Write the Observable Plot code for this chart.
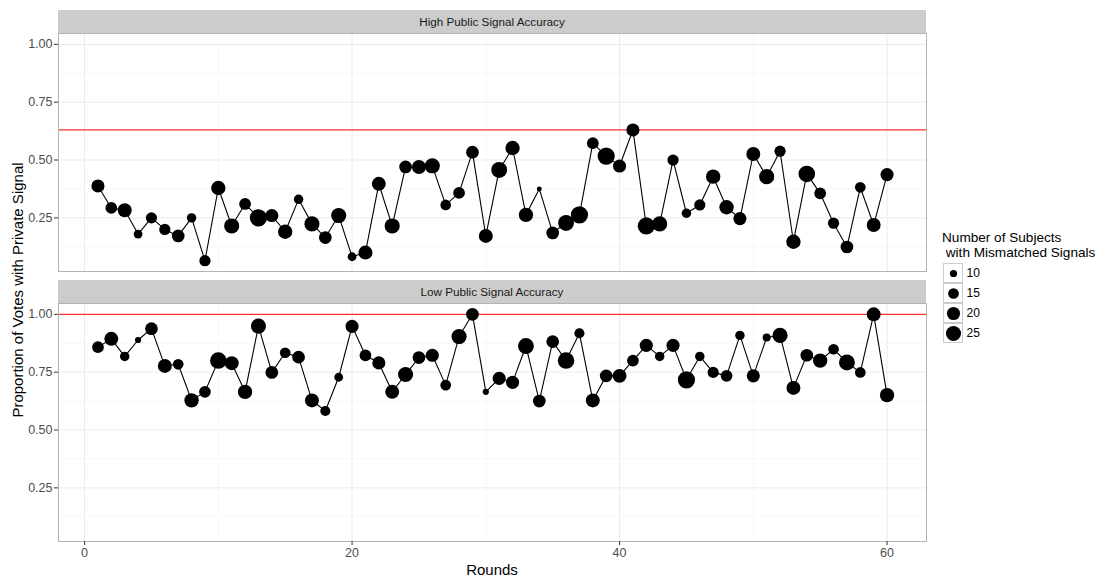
<!DOCTYPE html>
<html>
<head>
<meta charset="utf-8">
<script src="https://cdn.jsdelivr.net/npm/d3@7"></script>
<script src="https://cdn.jsdelivr.net/npm/@observablehq/plot@0.6"></script>
<style>
  body { margin: 0; background: #fff; font-family: "Liberation Sans", Arial, sans-serif; }
  #wrap { position: relative; width: 1111px; height: 577px; overflow: hidden; }
  .strip { position: absolute; left: 58px; width: 868px; height: 23px; background: #cccccc;
           font-size: 11.7px; color: #1a1a1a; text-align: center; line-height: 23px; }
  .ytitle { position: absolute; left: 17px; top: 290px; transform: translate(-50%, -50%) rotate(-90deg);
            font-size: 15px; color: #000; white-space: nowrap; }
  .xtitle { position: absolute; left: 492px; top: 569px; transform: translate(-50%, -50%);
            font-size: 15px; color: #000; white-space: nowrap; }
  .ltitle { position: absolute; left: 942px; top: 230px; font-size: 13.6px; line-height: 15px; color: #000; white-space: pre; }
</style>
</head>
<body>
<div id="wrap"></div>
<script>
// ---------- data ----------
const panels = ["High Public Signal Accuracy", "Low Public Signal Accuracy"];
const refLines = [0.63, 1.0];
const rounds = d3.range(1, 61);

const highProp = [0.388,0.293,0.283,0.180,0.250,0.200,0.172,0.250,0.065,0.379,
                  0.215,0.310,0.250,0.260,0.190,0.330,0.224,0.165,0.260,0.082,
                  0.100,0.397,0.215,0.470,0.470,0.475,0.306,0.358,0.534,0.172,
                  0.457,0.552,0.263,0.375,0.185,0.228,0.263,0.573,0.517,0.474,
                  0.630,0.215,0.224,0.500,0.270,0.306,0.428,0.296,0.247,0.526,
                  0.428,0.538,0.147,0.440,0.356,0.227,0.124,0.382,0.219,0.437];
const highN = [20,17,22,12,16,16,19,13,16,23,
               25,17,31,20,23,13,25,19,25,12,
               22,22,25,19,22,25,15,17,19,22,
               27,23,23,8,19,27,31,17,31,20,
               20,31,25,16,13,16,23,23,20,22,
               25,16,23,29,17,16,19,15,22,20];

const lowProp = [0.858,0.894,0.818,0.889,0.938,0.777,0.784,0.628,0.665,0.800,
                 0.789,0.665,0.949,0.749,0.834,0.815,0.628,0.582,0.728,0.948,
                 0.823,0.790,0.665,0.740,0.813,0.823,0.694,0.904,1.000,0.665,
                 0.723,0.706,0.863,0.625,0.882,0.800,0.918,0.628,0.734,0.734,
                 0.800,0.866,0.818,0.866,0.717,0.818,0.749,0.734,0.909,0.734,
                 0.900,0.909,0.682,0.823,0.800,0.849,0.792,0.749,1.000,0.651];
const lowN = [17,22,13,9,19,22,15,23,17,29,
              22,23,25,19,15,19,22,14,12,20,
              17,20,22,25,19,20,15,25,19,9,
              20,20,27,19,19,29,14,22,19,22,
              17,20,13,20,31,13,16,17,13,20,
              11,25,22,19,23,15,27,15,22,23];

const xMajor = [0, 20, 40, 60];
const xMinor = [10, 30, 50];
const yMajor = [0.25, 0.5, 0.75, 1.0];
const yMinor = [0.125, 0.375, 0.625, 0.875];
const legendSizes = [10, 15, 20, 25];

// ---------- scales (ggplot-like 5% expansion) ----------
const allY = highProp.concat(lowProp);
const yMin = d3.min(allY), yMax = d3.max(allY);
const yPad = (yMax - yMin) * 0.05;
const yDomain = [yMin - yPad, yMax + yPad];
const xPad = (d3.max(rounds) - d3.min(rounds)) * 0.05;
const xDomain = [d3.min(rounds) - xPad, d3.max(rounds) + xPad];
const nBase = 7;
const rScale = {type: "sqrt", domain: [0, 24], range: [0.88, 8.6]};

const font = "Liberation Sans, Arial, sans-serif";
const wrap = document.getElementById("wrap");

function place(el, left, top) {
  el.style.position = "absolute";
  el.style.left = left + "px";
  el.style.top = top + "px";
  wrap.appendChild(el);
}

function panel(props, ns, ref, showX) {
  const data = rounds.map((r, i) => ({round: r, prop: props[i], n: ns[i]}));
  const marks = [
    Plot.ruleX(xMinor, {stroke: "#f7f7f7"}),
    Plot.ruleY(yMinor, {stroke: "#f7f7f7"}),
    Plot.ruleX(xMajor, {stroke: "#ebebeb"}),
    Plot.ruleY(yMajor, {stroke: "#ebebeb"}),
    Plot.axisY(yMajor, {tickFormat: d3.format(".2f"), tickSize: 4, tickPadding: 2,
                        fontSize: 12.5, fill: "#4d4d4d", stroke: "#333", label: null}),
    Plot.ruleY([ref], {stroke: "#f8332a", strokeWidth: 1.2}),
    Plot.line(data, {x: "round", y: "prop", stroke: "black", strokeWidth: 1.1}),
    Plot.dot(data, {x: "round", y: "prop", r: d => d.n - nBase, fill: "black", stroke: "none"}),
    Plot.frame({stroke: "#b3b3b3"})
  ];
  if (showX) {
    marks.push(Plot.axisX(xMajor, {tickSize: 4, tickPadding: 3, fontSize: 12.5,
                                   fill: "#4d4d4d", stroke: "#333", label: null, tickFormat: "d"}));
  }
  return Plot.plot({
    width: 926, height: 238 + (showX ? 22 : 0),
    marginLeft: 58, marginRight: 0, marginTop: 0, marginBottom: showX ? 22 : 0,
    style: {fontFamily: font, background: "transparent", overflow: "visible"},
    x: {domain: xDomain, axis: null},
    y: {domain: yDomain, axis: null},
    r: rScale,
    marks
  });
}

// strips
panels.forEach((name, i) => {
  const s = document.createElement("div");
  s.className = "strip";
  s.style.top = (i === 0 ? 10 : 280) + "px";
  s.textContent = name;
  wrap.appendChild(s);
});

place(panel(highProp, highN, refLines[0], false), 0, 33);
place(panel(lowProp, lowN, refLines[1], true), 0, 303);

// axis titles
const yt = document.createElement("div");
yt.className = "ytitle";
yt.textContent = "Proportion of Votes with Private Signal";
wrap.appendChild(yt);
const xt = document.createElement("div");
xt.className = "xtitle";
xt.textContent = "Rounds";
wrap.appendChild(xt);

// legend
const lt = document.createElement("div");
lt.className = "ltitle";
lt.textContent = "Number of Subjects\n with Mismatched Signals";
wrap.appendChild(lt);

const legend = Plot.plot({
  width: 60, height: 82,
  marginLeft: 1, marginRight: 39, marginTop: 1, marginBottom: 1,
  style: {fontFamily: font, background: "transparent", overflow: "visible"},
  x: {type: "band", domain: ["k"], padding: 0, axis: null},
  y: {type: "band", domain: legendSizes, padding: 0, axis: null},
  r: rScale,
  marks: [
    Plot.cell(legendSizes, {x: () => "k", y: d => d, fill: "white", stroke: "#cccccc", inset: 0.5}),
    Plot.dot(legendSizes, {x: () => "k", y: d => d, r: d => d - nBase, fill: "black", stroke: "none"}),
    Plot.text(legendSizes, {x: () => "k", y: d => d, text: d => String(d), dx: 13, textAnchor: "start",
                            fontSize: 12, fill: "#000"})
  ]
});
place(legend, 942, 262);
</script>
</body>
</html>
